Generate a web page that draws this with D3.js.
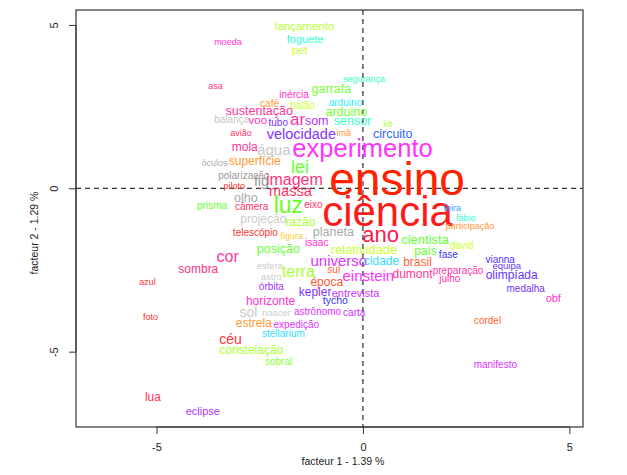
<!DOCTYPE html>
<html><head><meta charset="utf-8">
<script src="https://cdn.jsdelivr.net/npm/d3@7"></script>
<style>body{margin:0;background:#fff}svg{display:block;font-family:"Liberation Sans",Arial,sans-serif}</style>
</head><body><svg id="c" width="627" height="475"></svg>
<script>
const words = ["lançamento","foguete","pet","moeda","segurança","asa","garrafa","inércia","café","balão","arduino","arduino","sustentação","balança","voo","tubo","ar","som","sensor","kit","avião","velocidade","imã","mola","água","experimento","óculos","superfície","lei","polarização","imagem","fig","piloto","massa","ensino","olho","prisma","câmera","luz","eixo","ciência","projeção","razão","telescópio","figura","planeta","isaac","ano","posição","relatividade","cor","universo","cidade","sombra","esfera","terra","sul","azul","astro","einstein","época","órbita","kepler","entrevista","horizonte","tycho","foto","sol","nascer","astrônomo","carta","estrela","expedição","stellarium","céu","constelação","sobral","lua","eclipse","feira","fábio","participação","cientista","david","país","fase","brasil","vianna","equipa","dumont","preparação","julho","olimpíada","medalha","obf","cordel","manifesto","circuito"];
const factor1 = [-1.414,-1.402,-1.535,-3.271,0.027,-3.574,-0.765,-1.668,-2.262,-1.462,-0.426,-0.402,-2.511,-3.177,-2.547,-2.051,-1.584,-1.119,-0.252,0.603,-2.952,-1.492,-0.462,-2.862,-2.157,-0.010,-3.593,-2.620,-1.523,-2.886,-1.661,-2.462,-3.116,-1.758,0.826,-2.835,-3.654,-2.697,-1.806,-1.201,0.596,-2.412,-1.516,-2.605,-1.724,-0.717,-1.119,0.426,-2.048,0.027,-3.278,-0.584,0.450,-3.988,-2.254,-1.564,-0.707,-5.215,-2.218,0.131,-0.877,-2.218,-1.160,-0.179,-2.237,-0.668,-5.148,-2.775,-2.097,-1.099,-0.211,-2.642,-1.613,-1.927,-3.206,-2.705,-2.044,-5.087,-3.877,2.162,2.492,2.593,1.504,2.392,1.516,2.068,1.322,3.324,3.484,1.201,2.303,2.102,3.603,3.942,4.610,3.017,3.206,0.722];
const factor2 = [4.946,4.539,4.212,4.457,3.336,3.122,3.009,2.856,2.571,2.498,2.590,2.314,2.357,2.069,2.060,1.990,2.060,2.029,2.029,1.938,1.683,1.631,1.662,1.224,1.151,1.172,0.744,0.796,0.612,0.355,0.233,0.171,0.049,-0.104,0.162,-0.306,-0.542,-0.594,-0.582,-0.511,-0.817,-0.970,-1.071,-1.377,-1.481,-1.347,-1.683,-1.460,-1.889,-1.910,-2.112,-2.247,-2.265,-2.501,-2.378,-2.571,-2.501,-2.877,-2.736,-2.724,-2.908,-3.030,-3.196,-3.226,-3.489,-3.459,-3.961,-3.826,-3.817,-3.786,-3.817,-4.163,-4.184,-4.460,-4.643,-4.971,-5.317,-6.428,-6.856,-0.634,-0.940,-1.175,-1.604,-1.788,-1.959,-2.063,-2.296,-2.195,-2.400,-2.654,-2.531,-2.776,-2.684,-3.092,-3.398,-4.083,-5.409,1.653];
const weight = [11.5,11,11,9,9,9,12.5,10,10,10,10,12.5,12.5,10,11.5,10,17,12.5,12.5,9,9,14.5,9,12,15,25.5,9,12,18,10,16,14,9,14.5,46,12.5,10,10,23,10,42,12,12,10,9,12.5,10,22,12.5,13,16,15,12,12,9.5,16,10,9,9.5,15,12,10,12,11,12,10.5,9,14,9.5,10,10,12,10,10,14,12,10,12,11,9,9,9,13,10,12,10,12,10,9.5,12,10,10,12,10,11,10,10,12.5];
const wordColors = ["#b8ff33","#33ffd5","#ccff33","#ff33dd","#33ffbb","#ff3380","#77ff33","#ff33cc","#ff9933","#ccff33","#33eeff","#77ff33","#ff3399","#c8c8c8","#ff33bb","#8033ff","#ff33aa","#b333ff","#33ffcc","#aaff33","#ff3366","#8033ff","#ff9933","#ff3399","#c8c8c8","#ff33ff","#aaaaaa","#ff9933","#66ff33","#999999","#ff3380","#999999","#ff3333","#ff3366","#ff2200","#aaaaaa","#66ff33","#ff3366","#66ff1a","#ff3366","#ff1a1a","#cccccc","#aaff33","#ff3333","#ffcc33","#aaaaaa","#ff33cc","#ff1a4d","#66ff33","#ccff33","#ff3399","#dd33ff","#33ddff","#ff3380","#cccccc","#aaff33","#ff6633","#ff3333","#cccccc","#ff33ff","#ff5533","#a033ff","#8033ff","#cc33ff","#ff33cc","#3333ff","#ff3333","#cccccc","#cccccc","#dd33ff","#cc33ff","#ff9933","#dd33ff","#33ddff","#ff3344","#aaff33","#88ff33","#ff3355","#b333ff","#3399ff","#33ffcc","#ff9933","#66ff33","#ccff33","#66ff33","#3333ff","#ff6633","#5533ff","#6633ff","#ff3399","#ff33aa","#ff33aa","#6633ff","#7733ff","#ff33cc","#ff6633","#dd33ff","#3366ff"];
const xTicks = [-5, 0, 5];
const yTicks = [-5, 0, 5];
const xTitle = "facteur 1 - 1.39 %";
const yTitle = "facteur 2 - 1.29 %";

const svg = d3.select("#c");
const L = 76, R = 583, T = 10, B = 427;
const x = d3.scaleLinear().domain([-6.95, 5.33]).range([L, R]);
const y = d3.scaleLinear().domain([-7.306, 5.457]).range([B, T]);
const fs = d3.scaleLinear().domain([0, 1]).range([0, 1]);
const fmt = d => String(d);

// dashed reference lines
svg.append("line").attr("x1", x(0)).attr("x2", x(0)).attr("y1", T).attr("y2", B)
  .attr("stroke", "#000").attr("stroke-dasharray", "5,4").attr("stroke-width", 1);
svg.append("line").attr("x1", L).attr("x2", R).attr("y1", y(0)).attr("y2", y(0))
  .attr("stroke", "#000").attr("stroke-dasharray", "5,4").attr("stroke-width", 1);

// words
const data = words.map((w, i) => ({w, a: factor1[i], b: factor2[i], s: weight[i], c: wordColors[i]}));
svg.append("g").selectAll("text").data(data).join("text")
  .attr("x", d => x(d.a)).attr("y", d => y(d.b))
  .attr("text-anchor", "middle").attr("dominant-baseline", "middle")
  .attr("font-size", d => fs(d.s) + "px").attr("fill", d => d.c)
  .text(d => d.w);

// box
svg.append("rect").attr("x", L).attr("y", T).attr("width", R - L).attr("height", B - T)
  .attr("fill", "none").attr("stroke", "#333").attr("stroke-width", 1.2);

// axes
const gx = svg.append("g").attr("transform", `translate(0,${B})`)
  .call(d3.axisBottom(x).tickValues(xTicks).tickSize(7).tickPadding(9).tickFormat(fmt));
gx.select(".domain").attr("d", `M${x(-5)},0H${x(5)}`).attr("stroke", "#333");
gx.selectAll(".tick line").attr("stroke", "#333");
gx.selectAll("text").attr("font-size", "11px").attr("fill", "#222").attr("font-family", "Liberation Sans, Arial, sans-serif");

const gy = svg.append("g").attr("transform", `translate(${L},0)`)
  .call(d3.axisLeft(y).tickValues(yTicks).tickSize(7).tickFormat(fmt));
gy.select(".domain").attr("d", `M0,${y(-5)}V${y(5)}`).attr("stroke", "#333");
gy.selectAll(".tick line").attr("stroke", "#333");
gy.selectAll("text").attr("font-size", "11px").attr("fill", "#222").attr("font-family", "Liberation Sans, Arial, sans-serif")
  .attr("x", 0).attr("dy", null).attr("text-anchor", "middle")
  .attr("transform", "translate(-18,0) rotate(-90)");

svg.append("text").attr("x", 343).attr("y", 465).attr("text-anchor", "middle")
  .attr("font-size", "10.5px").attr("fill", "#222").text(xTitle);
svg.append("text").attr("transform", "translate(38,233) rotate(-90)").attr("text-anchor", "middle")
  .attr("font-size", "10.5px").attr("fill", "#222").text(yTitle);
</script></body></html>
